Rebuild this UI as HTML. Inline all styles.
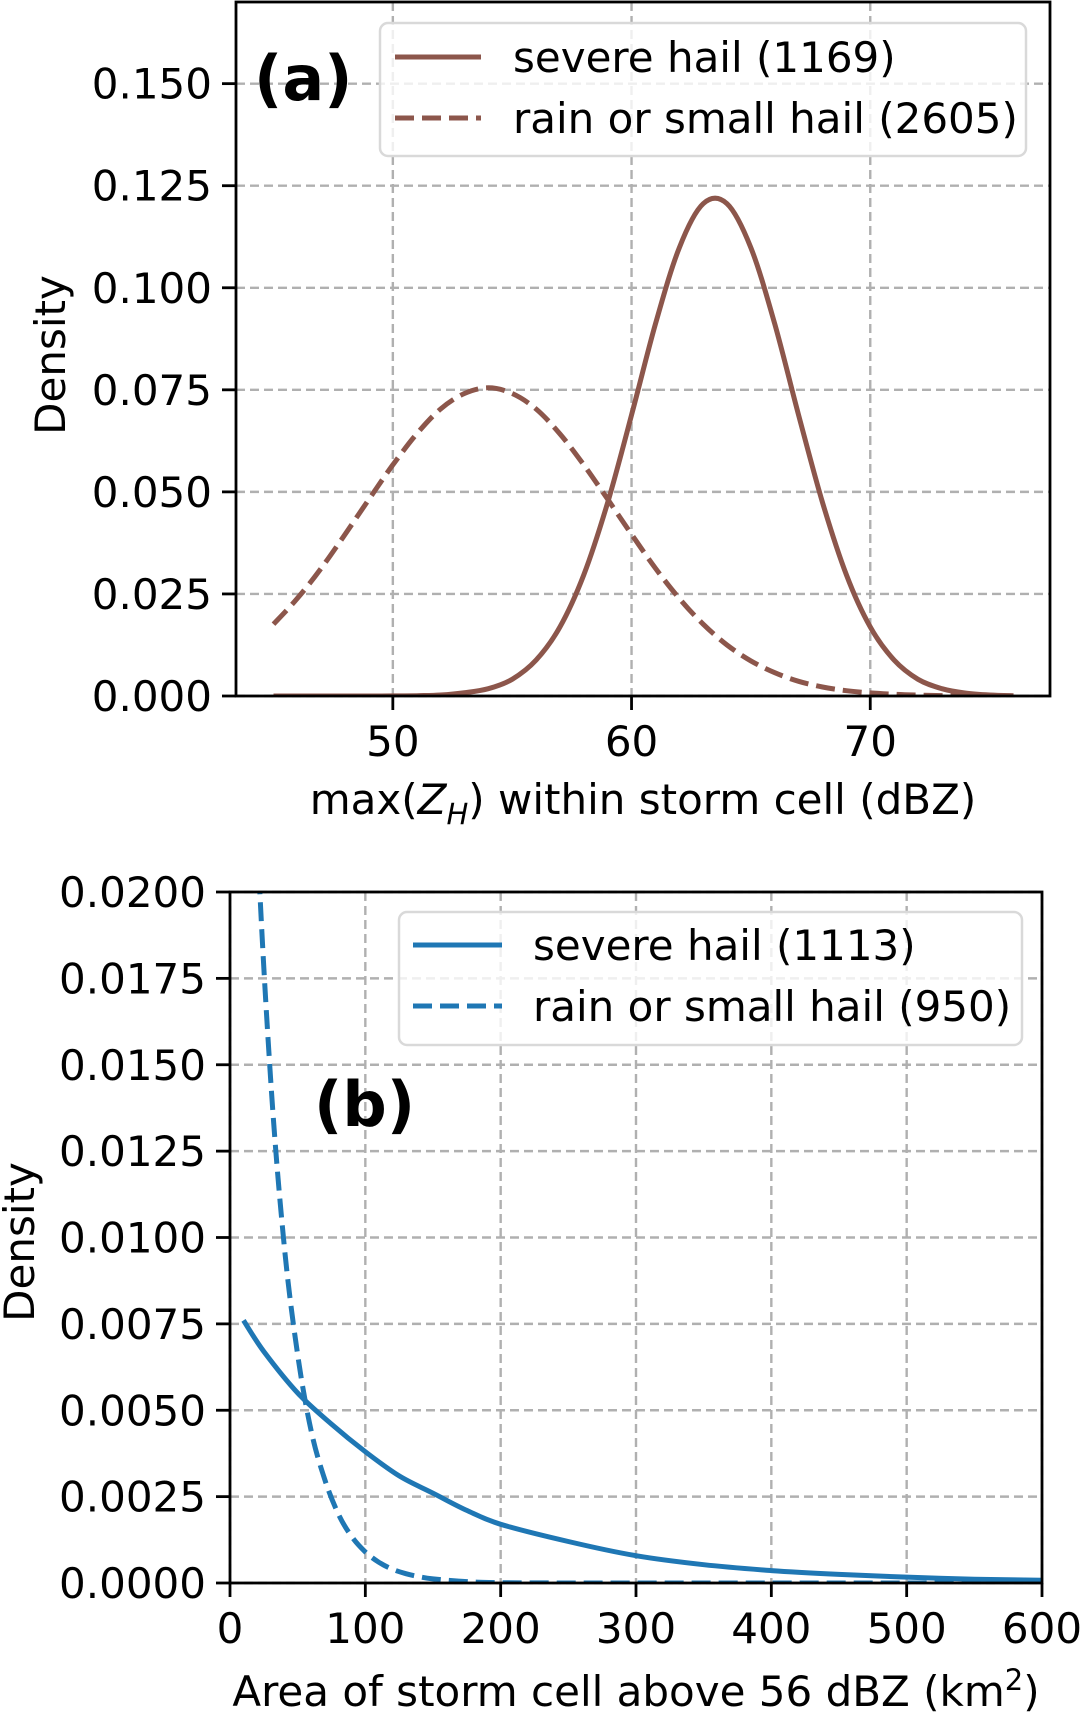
<!DOCTYPE html>
<html><head><meta charset="utf-8"><style>
html,body{margin:0;padding:0;background:#fff;}
svg{display:block;font-family:"DejaVu Sans","Liberation Sans",sans-serif;}
</style></head><body>
<svg id="fig" width="1081" height="1713" viewBox="0 0 1081 1713" xmlns="http://www.w3.org/2000/svg">
<defs>
<clipPath id="clipA"><rect x="236" y="2" width="814" height="694"/></clipPath>
<clipPath id="clipB"><rect x="230" y="892" width="812" height="691"/></clipPath>
</defs>
<g id="panelA"></g>
<g id="panelB"></g>
</svg>
<script>
// Panel (a) data
const aX = [45,46,47,48,49,50,51,52,53,54,55,56,57,58,59,60,61,62,63,64,65,66,67,68,69,70,71,72,73,74,75,76];
const aSevere = [0,0,0,0.00001,0.00001,0.00002,0.00008,0.00025,0.0008,0.0018,0.0041,0.0088,0.0169,0.0297,0.0474,0.0688,0.0911,0.1098,0.1206,0.1206,0.1098,0.0911,0.0688,0.0474,0.0297,0.0169,0.0088,0.0041,0.0018,0.0007,0.00025,0.00008];
const aRain = [0.0176,0.0239,0.0313,0.0396,0.0482,0.0566,0.0642,0.0703,0.0741,0.0755,0.0741,0.0703,0.0642,0.0566,0.0482,0.0396,0.0313,0.0239,0.0176,0.0125,0.0086,0.0057,0.0036,0.0022,0.0013,0.00076,0.00042,0.00022,0.00011,0.00005,0.00002,0.00001];
const aXTicks = [50,60,70];
const aYTicks = [0,0.025,0.05,0.075,0.1,0.125,0.15];
const aYLabels = ["0.000","0.025","0.050","0.075","0.100","0.125","0.150"];
// Panel (b) data
const bXSevere = [10,25,50,75,100,125,150,175,200,250,300,350,400,450,500,550,600];
const bSevere = [0.0076,0.0067,0.0055,0.0046,0.0038,0.0031,0.0026,0.0021,0.0017,0.0012,0.00079,0.00053,0.00036,0.00025,0.00017,0.00011,0.00008];
const bXRain = [10,20,30,40,50,60,70,80,90,100,110,120,130,140,150,175,200,250,300,400,500,600];
const bRain = [0.0322,0.0217,0.0146,0.0098,0.0066,0.0044,0.0030,0.0020,0.00134,0.0009,0.0006,0.0004,0.00027,0.00018,0.00012,0.00004,0.00001,0,0,0,0,0];
const bXTicks = [0,100,200,300,400,500,600];
const bYTicks = [0,0.0025,0.005,0.0075,0.01,0.0125,0.015,0.0175,0.02];
const bYLabels = ["0.0000","0.0025","0.0050","0.0075","0.0100","0.0125","0.0150","0.0175","0.0200"];

const NS = "http://www.w3.org/2000/svg";
function mk(tag, attrs, parent){const e=document.createElementNS(NS,tag);for(const k in attrs)e.setAttribute(k,attrs[k]);parent.appendChild(e);return e;}

// smooth path through points (Catmull-Rom -> cubic Bezier)
function smoothPath(pts){
  let d='M'+pts[0][0].toFixed(1)+','+pts[0][1].toFixed(1);
  for(let i=0;i<pts.length-1;i++){
    const p0=pts[Math.max(i-1,0)],p1=pts[i],p2=pts[i+1],p3=pts[Math.min(i+2,pts.length-1)];
    const c1=[p1[0]+(p2[0]-p0[0])/6,p1[1]+(p2[1]-p0[1])/6];
    const c2=[p2[0]-(p3[0]-p1[0])/6,p2[1]-(p3[1]-p1[1])/6];
    d+=' C'+c1[0].toFixed(1)+','+c1[1].toFixed(1)+' '+c2[0].toFixed(1)+','+c2[1].toFixed(1)+' '+p2[0].toFixed(1)+','+p2[1].toFixed(1);
  }
  return d;
}

function drawPanel(g, P){
  const sx = v => P.l + (v-P.x0)/(P.x1-P.x0)*(P.r-P.l);
  const sy = v => P.b - (v-P.y0)/(P.y1-P.y0)*(P.b-P.t);
  P.xt.forEach(v=>{const e=mk('line',{x1:sx(v),x2:sx(v),y1:P.t,y2:P.b,stroke:'#b0b0b0','stroke-width':2.4,'stroke-dasharray':'9,5'},g);
    
    });
  P.yt.forEach(v=>{const e=mk('line',{x1:P.l,x2:P.r,y1:sy(v),y2:sy(v),stroke:'#b0b0b0','stroke-width':2.4,'stroke-dasharray':'9,5'},g);
    
    });
  P.series.forEach(s=>{
    const pts=s.x.map((v,i)=>[sx(v),sy(s.y[i])]);
    const e=mk('path',{d:smoothPath(pts),fill:'none',stroke:s.color,'stroke-width':5,'stroke-dasharray':s.dash||'none','clip-path':P.clip},g);
    
    
  });
  const fr=mk('rect',{x:P.l,y:P.t,width:P.r-P.l,height:P.b-P.t,fill:'none',stroke:'#000','stroke-width':2.8},g);
  
  
  P.xt.forEach((v,i)=>{mk('line',{x1:sx(v),x2:sx(v),y1:P.b,y2:P.b+14,stroke:'#000','stroke-width':2.8},g);
    const t=mk('text',{x:sx(v),y:P.b+60,'text-anchor':'middle','font-size':42,fill:'#000'},g);t.textContent=String(v);
    
    });
  P.yt.forEach((v,i)=>{mk('line',{x1:P.l-14,x2:P.l,y1:sy(v),y2:sy(v),stroke:'#000','stroke-width':2.8},g);
    const t=mk('text',{x:P.l-24,y:sy(v)+15,'text-anchor':'end','font-size':42,fill:'#000'},g);t.textContent=P.yl[i];
    
    });
}

const gA=document.getElementById('panelA');
drawPanel(gA,{l:236,r:1050,t:2,b:696,x0:43.43,x1:77.53,y0:0,y1:0.17,xt:aXTicks,yt:aYTicks,yl:aYLabels,clip:'url(#clipA)',
  series:[{x:aX,y:aSevere,color:'#8c564b',name:'severe-hail-curve'},{x:aX,y:aRain,color:'#8c564b',dash:'19,8',name:'rain-small-hail-curve'}]});
const gB=document.getElementById('panelB');
drawPanel(gB,{l:230,r:1042,t:892,b:1583,x0:0,x1:600,y0:0,y1:0.02,xt:bXTicks,yt:bYTicks,yl:bYLabels,clip:'url(#clipB)',
  series:[{x:bXSevere,y:bSevere,color:'#1f77b4',name:'severe-hail-curve'},{x:bXRain,y:bRain,color:'#1f77b4',dash:'19,8',name:'rain-small-hail-curve'}]});
</script>
<svg width="1081" height="1713" style="position:absolute;left:0;top:0" xmlns="http://www.w3.org/2000/svg">
<g font-family="DejaVu Sans, Liberation Sans, sans-serif" fill="#000">
<text x="254" y="100" font-size="62" font-weight="bold">(a)</text>
<g>
<rect x="380" y="23" width="646" height="133" rx="8" fill="#fff" fill-opacity="0.8" stroke="#d9d9d9" stroke-width="2.5"/>
<line x1="395" x2="481" y1="57" y2="57" stroke="#8c564b" stroke-width="5"/>
<text x="513" y="72" font-size="42">severe hail (1169)</text>
<line x1="395" x2="481" y1="118" y2="118" stroke="#8c564b" stroke-width="5" stroke-dasharray="19,8"/>
<text x="513" y="133" font-size="42">rain or small hail (2605)</text>
</g>
<text x="643" y="814" font-size="42" text-anchor="middle">max(<tspan font-style="italic">Z</tspan><tspan font-style="italic" font-size="29" dy="10">H</tspan><tspan dy="-10">) within storm cell (dBZ)</tspan></text>
<text transform="translate(65,355) rotate(-90)" font-size="42" text-anchor="middle">Density</text>

<text x="314" y="1126" font-size="62" font-weight="bold">(b)</text>
<g>
<rect x="399" y="912" width="623" height="133" rx="8" fill="#fff" fill-opacity="0.8" stroke="#d9d9d9" stroke-width="2.5"/>
<line x1="413" x2="502" y1="945" y2="945" stroke="#1f77b4" stroke-width="5"/>
<text x="533" y="960" font-size="42">severe hail (1113)</text>
<line x1="413" x2="502" y1="1006" y2="1006" stroke="#1f77b4" stroke-width="5" stroke-dasharray="19,8"/>
<text x="533" y="1021" font-size="42">rain or small hail (950)</text>
</g>
<text x="636" y="1706" font-size="42" text-anchor="middle">Area of storm cell above 56 dBZ (km<tspan font-size="29" dy="-16">2</tspan><tspan dy="16">)</tspan></text>
<text transform="translate(34,1242) rotate(-90)" font-size="42" text-anchor="middle">Density</text>
</g>
</svg>
</body></html>
